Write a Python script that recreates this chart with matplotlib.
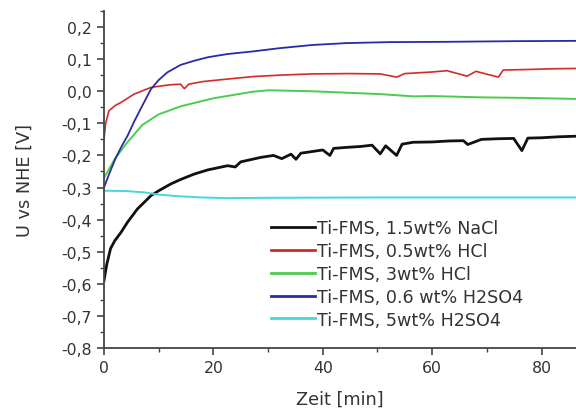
import matplotlib
matplotlib.use("Agg")
import matplotlib.pyplot as plt
from matplotlib.ticker import MultipleLocator, FixedLocator, FixedFormatter

# values (time in min, potential in V)
t_black = [0, 0.5, 1.2, 2, 3.1, 4.3, 6.1, 8.6, 10, 12.2, 14, 16.5, 19, 22.6, 24, 25,
           28.7, 31, 32.5, 34.2, 35.1, 36, 38, 40, 41.3, 42, 44.3, 47, 49, 50.5, 51.5,
           53.5, 54.5, 56.5, 60, 63, 65.7, 66.5, 69, 72, 74.9, 76.4, 77.5, 80, 83, 86.5]
v_black = [-0.59, -0.54, -0.49, -0.465, -0.44, -0.408, -0.367, -0.325, -0.31, -0.289,
           -0.275, -0.258, -0.245, -0.232, -0.236, -0.22, -0.206, -0.2, -0.21, -0.196,
           -0.212, -0.193, -0.188, -0.183, -0.2, -0.178, -0.175, -0.172, -0.168, -0.195,
           -0.17, -0.2, -0.165, -0.159, -0.158, -0.155, -0.154, -0.166, -0.15, -0.148,
           -0.147, -0.185, -0.146, -0.145, -0.142, -0.14]

t_red = [0, 0.3, 0.9, 2, 3.1, 5.5, 8.6, 12, 14, 14.7, 15.5, 18, 22.6, 27.5, 32, 38, 45,
         50.5, 53.5, 55, 60, 62.7, 66.4, 68, 72.1, 73, 78, 82, 86.5]
v_red = [-0.15, -0.1, -0.061, -0.045, -0.035, -0.009, 0.012, 0.02, 0.022, 0.008, 0.022,
         0.03, 0.038, 0.046, 0.05, 0.054, 0.055, 0.054, 0.044, 0.055, 0.06, 0.064, 0.047,
         0.062, 0.044, 0.066, 0.068, 0.07, 0.071]

t_green = [0, 1, 2, 4, 7, 10, 14, 20, 27, 30, 38, 45, 50.5, 56.6, 60, 68.8, 78, 86.5]
v_green = [-0.27, -0.24, -0.21, -0.165, -0.105, -0.072, -0.047, -0.022, -0.002, 0.003,
           0.0, -0.005, -0.009, -0.016, -0.015, -0.019, -0.021, -0.024]

t_blue = [0, 1, 2.1, 3.2, 4.3, 5.5, 6.7, 8.6, 10, 11.6, 14, 16.5, 19, 22.6, 27.2, 32,
          38, 44.3, 52, 62.7, 75, 86.5]
v_blue = [-0.30, -0.255, -0.21, -0.172, -0.139, -0.095, -0.055, 0.007, 0.035, 0.059,
          0.082, 0.095, 0.106, 0.116, 0.124, 0.134, 0.144, 0.15, 0.153, 0.154, 0.156,
          0.157]

t_cyan = [0, 4, 7.3, 10, 13.5, 18, 22.6, 30, 50, 70, 86.5]
v_cyan = [-0.31, -0.311, -0.315, -0.322, -0.327, -0.331, -0.333, -0.332, -0.331,
          -0.331, -0.331]

labels = ["Ti-FMS, 1.5wt% NaCl", "Ti-FMS, 0.5wt% HCl", "Ti-FMS, 3wt% HCl",
          "Ti-FMS, 0.6 wt% H2SO4", "Ti-FMS, 5wt% H2SO4"]

y_ticks = [0.2, 0.1, 0.0, -0.1, -0.2, -0.3, -0.4, -0.5, -0.6, -0.7, -0.8]
y_ticklabels = ["0,2", "0,1", "0,0", "-0,1", "-0,2", "-0,3", "-0,4", "-0,5", "-0,6",
                "-0,7", "-0,8"]

fig = plt.figure(figsize=(5.76, 4.1), dpi=100)
ax = fig.add_axes([104 / 576, 1 - 349 / 410, 1 - 104 / 576, (349 - 12) / 410])

ax.plot(t_black, v_black, color="#111111", lw=2.0, label=labels[0])
ax.plot(t_red, v_red, color="#d42a2a", lw=1.2, label=labels[1])
ax.plot(t_green, v_green, color="#4ccc4c", lw=1.4, label=labels[2])
ax.plot(t_blue, v_blue, color="#2a2aa8", lw=1.3, label=labels[3])
ax.plot(t_cyan, v_cyan, color="#44d8d8", lw=1.4, label=labels[4])

ax.set_xlim(0, 86.3)
ax.set_ylim(-0.8, 0.25)

ax.xaxis.set_major_locator(MultipleLocator(20))
ax.xaxis.set_minor_locator(MultipleLocator(10))
ax.yaxis.set_major_locator(FixedLocator(y_ticks))
ax.yaxis.set_major_formatter(FixedFormatter(y_ticklabels))
ax.yaxis.set_minor_locator(MultipleLocator(0.05))

for side in ["top", "right"]:
    ax.spines[side].set_visible(False)
for side in ["left", "bottom"]:
    ax.spines[side].set_color("#444444")
    ax.spines[side].set_linewidth(1.3)

ax.tick_params(which="major", direction="out", length=5, width=1.2, color="#444444",
               labelsize=11.3, labelcolor="#333333")
ax.tick_params(which="minor", direction="out", length=3, width=1.0, color="#444444")

ax.set_xlabel("Zeit [min]", fontsize=12.8, color="#333333", labelpad=11)
ax.set_ylabel("U vs NHE [V]", fontsize=12.8, color="#333333", labelpad=20)

leg = ax.legend(loc="upper left", bbox_to_anchor=(271 / 576, 1 - 220 / 410),
                bbox_transform=fig.transFigure, frameon=False, fontsize=12.6,
                borderpad=0, borderaxespad=0, handlelength=2.5, handletextpad=0.12,
                labelspacing=0.28)
for line in leg.get_lines():
    line.set_linewidth(2)
for txt in leg.get_texts():
    txt.set_color("#333333")

fig.savefig("out.png", dpi=100)
